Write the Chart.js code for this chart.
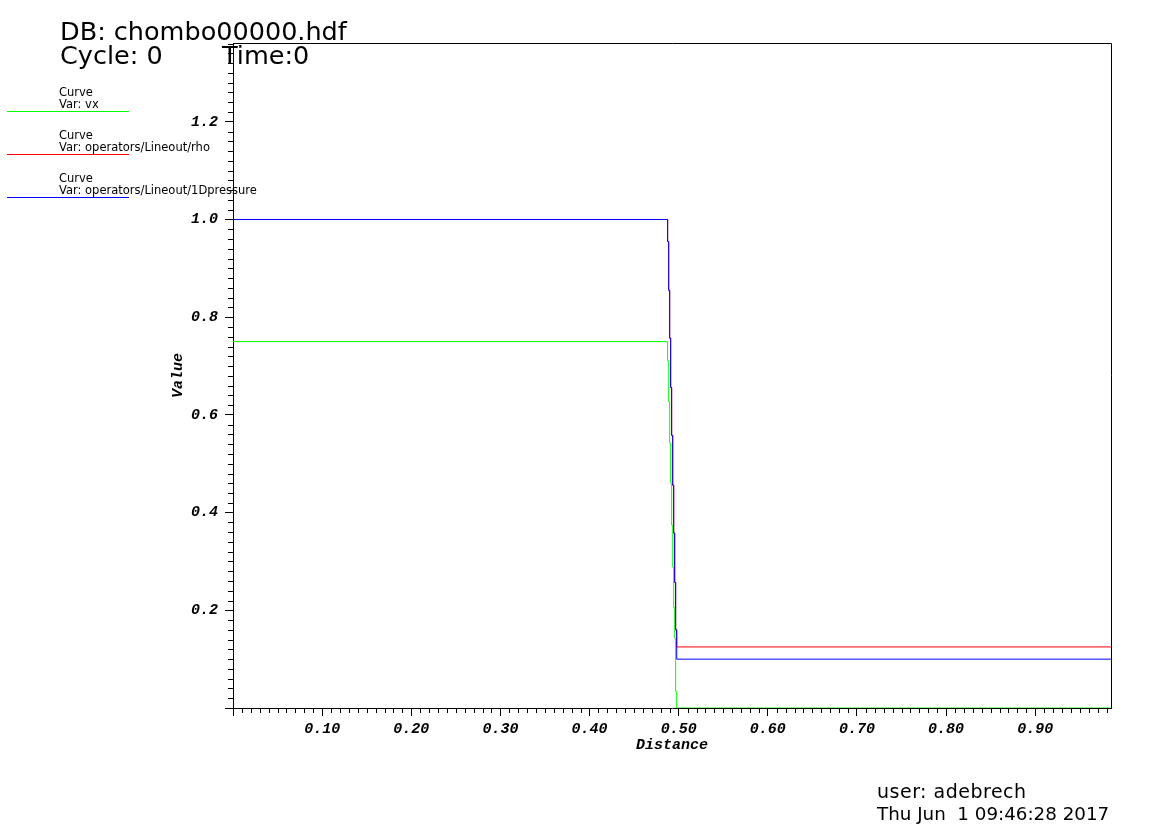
<!DOCTYPE html>
<html>
<head>
    <title></title>
    <meta charset="utf-8" />
    <style>
    body { margin: 0; background: #fff; }
    #wrap { position: relative; width: 1171px; height: 834px; }
    #wrap canvas { position: absolute; left: 0; top: 0; }
    .t { position: absolute; font-family: 'DejaVu Sans'; color: #000; white-space: pre; line-height: 1; }
    .leg { position: absolute; left: 7px; width: 122px; height: 1px; }
    </style>
    <script src="https://cdn.jsdelivr.net/npm/chart.js"></script>
</head>
<body>
<div id="wrap">
    <canvas id="myChart" width="1171" height="834"></canvas>
    <div class="t" style="left:60px;top:19px;font-size:25.5px">DB: chombo00000.hdf</div>
    <div class="t" style="left:60px;top:43px;font-size:25.5px">Cycle: 0</div>
    <div class="t" style="left:222px;top:43px;font-size:25.5px">Time:0</div>

    <div class="t" style="left:59px;top:87px;font-size:11.5px">Curve</div>
    <div class="t" style="left:59px;top:99px;font-size:11.5px">Var: vx</div>
    <div class="leg" style="top:111px;background:#00ff00"></div>
    <div class="t" style="left:59px;top:130px;font-size:11.5px">Curve</div>
    <div class="t" style="left:59px;top:142px;font-size:11.5px">Var: operators/Lineout/rho</div>
    <div class="leg" style="top:154px;background:#ff0000"></div>
    <div class="t" style="left:59px;top:173px;font-size:11.5px">Curve</div>
    <div class="t" style="left:59px;top:185px;font-size:11.5px">Var: operators/Lineout/1Dpressure</div>
    <div class="leg" style="top:197px;background:#0000ff"></div>

    <div class="t" style="left:877px;top:782px;font-size:19px;letter-spacing:0.5px">user: adebrech</div>
    <div class="t" style="left:877px;top:805px;font-size:18.3px">Thu Jun  1 09:46:28 2017</div>
</div>
<script>
// lineout samples (step curve, value holds from each x until the next one)
const xs = [0, 0.4876, 0.4888, 0.4899, 0.4910, 0.4921, 0.4933, 0.4944, 0.4955, 0.4966, 0.4978, 0.985];
const vx = [0.75, 0.711, 0.627, 0.542, 0.460, 0.374, 0.288, 0.206, 0.143, 0.034, 0, 0];
const rho = [1.0, 0.955, 0.855, 0.757, 0.656, 0.558, 0.456, 0.358, 0.257, 0.160, 0.125, 0.125];
const pressure = [1.0, 0.955, 0.855, 0.757, 0.656, 0.558, 0.456, 0.358, 0.257, 0.160, 0.100, 0.100];

const xMax = 0.985;
const yMax = 1.3613;

function pts(vals) { return xs.map((x, i) => ({ x: x, y: vals[i] })); }

const tickFont = { family: 'Liberation Mono', size: 15, style: 'italic', weight: 'bold' };

let dataset = [
    { label: 'vx', data: pts(vx), borderColor: '#00ff00', order: 2 },
    { label: 'operators/Lineout/rho', data: pts(rho), borderColor: '#ff0000', order: 1 },
    { label: 'operators/Lineout/1Dpressure', data: pts(pressure), borderColor: '#0000ff', order: 0 }
].map(d => Object.assign(d, { borderWidth: 1, pointRadius: 0, stepped: 'before', fill: false }));

// minor ticks + top/right frame
const extras = {
    id: 'extras',
    afterDraw(chart) {
        const { ctx, chartArea: a, scales: { x, y } } = chart;
        ctx.save();
        ctx.strokeStyle = '#000';
        ctx.lineWidth = 1;
        ctx.beginPath();
        for (let i = 1; i * 0.01 < xMax; i++) {
            if (i % 10 === 0) continue;
            const px = Math.round(x.getPixelForValue(i * 0.01)) + 0.5;
            ctx.moveTo(px, a.bottom);
            ctx.lineTo(px, a.bottom + 5);
        }
        for (let i = 1; i * 0.02 < yMax; i++) {
            if (i % 10 === 0) continue;
            const py = Math.round(y.getPixelForValue(i * 0.02)) + 0.5;
            ctx.moveTo(a.left, py);
            ctx.lineTo(a.left - 5, py);
        }
        ctx.moveTo(a.left, Math.round(a.top) + 0.5);
        ctx.lineTo(Math.round(a.right) + 0.5, Math.round(a.top) + 0.5);
        ctx.lineTo(Math.round(a.right) + 0.5, a.bottom);
        ctx.stroke();
        ctx.restore();
    }
};

let ctx = document.getElementById('myChart').getContext('2d');
let myChart = new Chart(ctx, {
    type: 'line',
    data: { datasets: dataset },
    options: {
        responsive: false,
        animation: false,
        layout: { padding: { left: 0, top: 43, right: 60, bottom: 76 } },
        plugins: { legend: { display: false }, tooltip: { enabled: false } },
        scales: {
            x: {
                type: 'linear', min: 0, max: xMax,
                afterFit: s => { s.height = 50; },
                border: { display: true, color: '#000', width: 1 },
                grid: { display: true, drawOnChartArea: false, drawTicks: true, tickLength: 8, tickColor: '#000', color: '#000' },
                ticks: {
                    stepSize: 0.1, includeBounds: false, autoSkip: false, maxRotation: 0, padding: 4,
                    color: '#000', font: tickFont,
                    callback: v => Math.abs(v) < 1e-9 ? '' : v.toFixed(2)
                },
                title: { display: true, text: 'Distance', color: '#000', font: tickFont, padding: { top: 0, bottom: 4 } }
            },
            y: {
                type: 'linear', min: 0, max: yMax,
                afterFit: s => { s.width = 233; },
                border: { display: true, color: '#000', width: 1 },
                grid: { display: true, drawOnChartArea: false, drawTicks: true, tickLength: 8, tickColor: '#000', color: '#000' },
                ticks: {
                    stepSize: 0.2, includeBounds: false, autoSkip: false, padding: 7,
                    color: '#000', font: tickFont,
                    callback: v => Math.abs(v) < 1e-9 ? '' : v.toFixed(1)
                },
                title: { display: true, text: 'Value', color: '#000', font: tickFont, padding: { top: 169, bottom: 0 } }
            }
        }
    },
    plugins: [extras]
});
</script>
</body>
</html>
